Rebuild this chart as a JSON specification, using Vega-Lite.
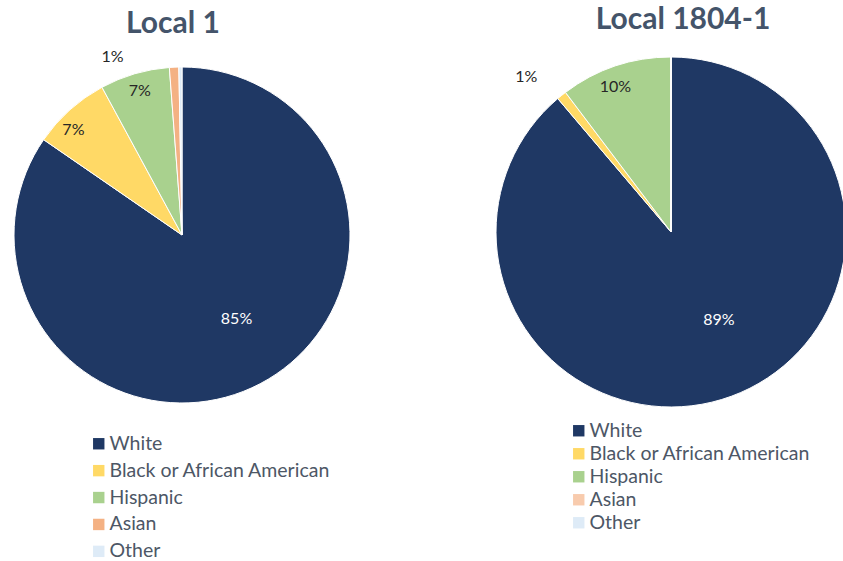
{
  "$schema": "https://vega.github.io/schema/vega-lite/v6.json",
  "padding": {"left": 0, "top": 5, "right": 0, "bottom": 0},
  "background": "white",
  "config": {
    "view": {"stroke": null},
    "font": "Lato",
    "concat": {"spacing": 131},
    "title": {"fontSize": 30, "fontWeight": "bold", "color": "#44546A", "anchor": "middle", "font": "Lato"}
  },
  "datasets": {
    "left": [
      {"cat": "White", "v": 84.6, "ord": 1, "lab": "85%"},
      {"cat": "Black or African American", "v": 7.5, "ord": 2, "lab": "7%"},
      {"cat": "Hispanic", "v": 6.7, "ord": 3, "lab": "7%"},
      {"cat": "Asian", "v": 0.9, "ord": 4, "lab": "1%"},
      {"cat": "Other", "v": 0.3, "ord": 5, "lab": "0%"}
    ],
    "right": [
      {"cat": "White", "v": 88.8, "ord": 1, "lab": "89%"},
      {"cat": "Black or African American", "v": 0.9, "ord": 2, "lab": "1%"},
      {"cat": "Hispanic", "v": 10.3, "ord": 3, "lab": "10%"},
      {"cat": "Asian", "v": 0, "ord": 4, "lab": "0%"},
      {"cat": "Other", "v": 0, "ord": 5, "lab": "0%"}
    ]
  },
  "hconcat": [
    {
      "title": {"text": "Local 1", "dx": -9, "offset": 10},
      "width": 362,
      "height": 350,
      "data": {"name": "left"},
      "encoding": {
        "theta": {"field": "v", "type": "quantitative", "stack": true},
        "order": {"field": "ord", "type": "quantitative"}
      },
      "layer": [
        {
          "mark": {"type": "arc", "outerRadius": 168, "stroke": "white", "strokeWidth": 1},
          "encoding": {
            "color": {
              "field": "cat", "type": "nominal",
              "scale": {"domain": ["White", "Black or African American", "Hispanic", "Asian", "Other"],
                        "range": ["#1F3864", "#FFD966", "#A9D18E", "#F4B183", "#DEEBF7"]},
              "legend": {"orient": "none", "legendX": 88, "legendY": 374, "direction": "vertical", "title": null,
                         "symbolType": "square", "symbolSize": 130, "symbolStrokeWidth": 0, "labelLimit": 400,
                         "labelFontSize": 19.5, "labelColor": "#4D5766", "rowPadding": 5.9, "padding": 0, "labelOffset": 1}
            }
          }
        },
        {
          "mark": {"type": "text", "radius": 100, "fontSize": 16, "color": "white", "dx": 8, "dy": -5},
          "encoding": {"detail": {"field": "cat"}, "text": {"condition": {"test": "datum.cat === 'White'", "field": "lab"}, "value": ""}}
        },
        {
          "mark": {"type": "text", "radius": 155, "fontSize": 16, "color": "#262626", "dx": -5, "dy": 10},
          "encoding": {"detail": {"field": "cat"}, "text": {"condition": {"test": "datum.cat === 'Black or African American'", "field": "lab"}, "value": ""}}
        },
        {
          "mark": {"type": "text", "radius": 150, "fontSize": 16, "color": "#262626"},
          "encoding": {"detail": {"field": "cat"}, "text": {"condition": {"test": "datum.cat === 'Hispanic'", "field": "lab"}, "value": ""}}
        },
        {
          "mark": {"type": "text", "radius": 180, "fontSize": 16, "color": "#262626", "dx": -61, "dy": 2},
          "encoding": {"detail": {"field": "cat"}, "text": {"condition": {"test": "datum.cat === 'Asian'", "field": "lab"}, "value": ""}}
        }
      ]
    },
    {
      "title": {"text": "Local 1804-1", "dx": 12, "offset": -8},
      "width": 340,
      "height": 344,
      "data": {"name": "right"},
      "encoding": {
        "theta": {"field": "v", "type": "quantitative", "stack": true},
        "order": {"field": "ord", "type": "quantitative"}
      },
      "layer": [
        {
          "mark": {"type": "arc", "outerRadius": 175, "stroke": "white", "strokeWidth": 1},
          "encoding": {
            "color": {
              "field": "cat", "type": "nominal",
              "scale": {"domain": ["White", "Black or African American", "Hispanic", "Asian", "Other"],
                        "range": ["#1F3864", "#FFD966", "#A9D18E", "#F8CBAD", "#DEEBF7"]},
              "legend": {"orient": "none", "legendX": 68, "legendY": 361, "direction": "vertical", "title": null,
                         "symbolType": "square", "symbolSize": 130, "symbolStrokeWidth": 0, "labelLimit": 400,
                         "labelFontSize": 19.5, "labelColor": "#4D5766", "rowPadding": 2, "padding": 0, "labelOffset": 1}
            }
          }
        },
        {
          "mark": {"type": "text", "radius": 104, "fontSize": 16, "color": "white", "dx": 12, "dy": -10},
          "encoding": {"detail": {"field": "cat"}, "text": {"condition": {"test": "datum.cat === 'White'", "field": "lab"}, "value": ""}}
        },
        {
          "mark": {"type": "text", "radius": 153, "fontSize": 16, "color": "#262626", "dx": -7},
          "encoding": {"detail": {"field": "cat"}, "text": {"condition": {"test": "datum.cat === 'Hispanic'", "field": "lab"}, "value": ""}}
        },
        {
          "mark": {"type": "text", "radius": 190, "fontSize": 16, "color": "#262626", "dx": -26, "dy": -7},
          "encoding": {"detail": {"field": "cat"}, "text": {"condition": {"test": "datum.cat === 'Black or African American'", "field": "lab"}, "value": ""}}
        }
      ]
    }
  ],
  "resolve": {"scale": {"color": "independent", "theta": "independent"}, "legend": {"color": "independent"}}
}
